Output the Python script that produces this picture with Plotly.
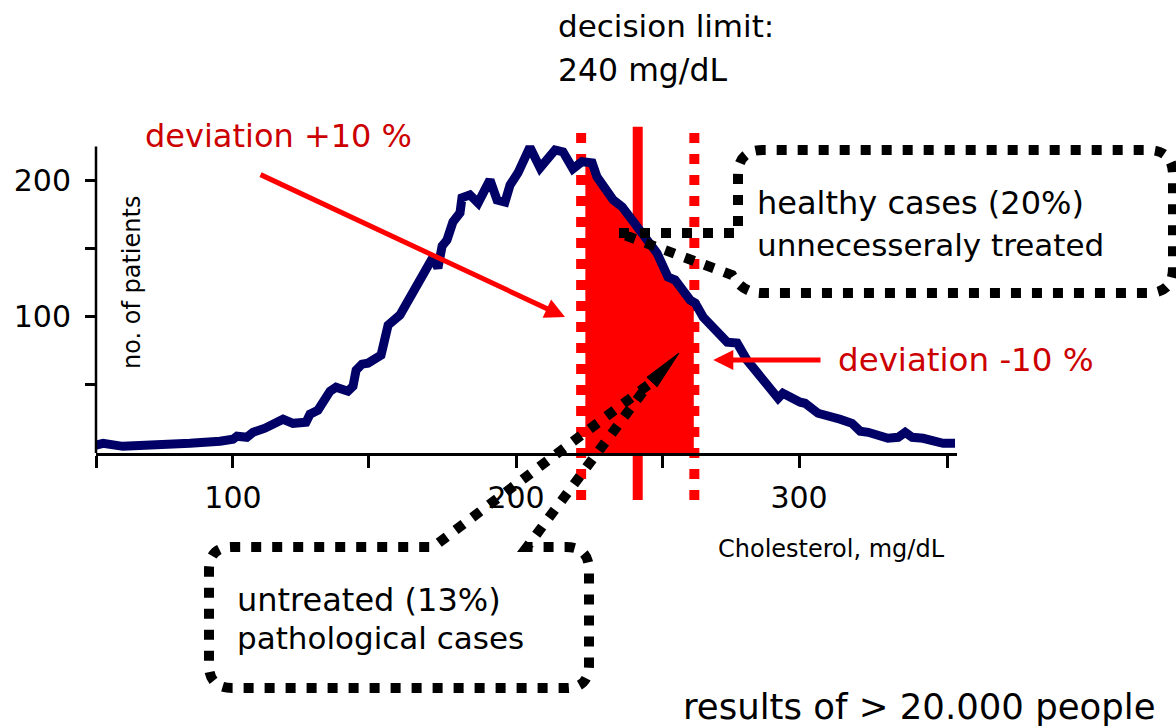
import numpy as np
import plotly.graph_objects as go

# ---------------- data ----------------
cholesterol = [51.6, 54.1, 61.1, 78.8, 84.8, 95.4, 100.0, 101.4, 104.9, 107.1, 111.3, 117.7,
               121.2, 125.8, 127.2, 130.0, 134.3, 136.4, 140.6, 142.4, 143.5, 145.6, 147.7,
               152.3, 153.4, 154.8, 159.0, 166.1, 170.7, 172.4, 173.9, 175.6, 177.7, 180.2,
               180.9, 183.7, 186.6, 190.8, 193.3, 196.1, 197.9, 200.7, 204.9, 208.5, 213.8,
               216.6, 220.1, 223.3, 226.9, 228.6, 234.3, 237.5, 244.9, 249.8, 253.7, 256.2,
               261.5, 263.3, 266.1, 271.0, 274.6, 278.1, 281.6, 292.6, 294.3, 300.4, 302.1,
               306.7, 309.9, 314.5, 318.7, 321.6, 324.4, 331.4, 335.0, 337.5, 340.0, 343.8,
               350.9, 355.1]
patients = [5.7, 7.1, 4.9, 5.7, 7.1, 8.6, 10.1, 12.3, 11.5, 15.2, 18.2, 24.8,
            21.8, 22.6, 28.5, 31.4, 45.4, 48.3, 45.4, 49.0, 60.8, 65.2, 66.0,
            71.8, 80.7, 93.9, 101.3, 128.5, 143.9, 135.8, 152.0, 156.4, 169.6, 176.3,
            187.3, 189.5, 183.6, 200.5, 185.8, 184.3, 196.8, 205.7, 224.5, 209.3, 222.5,
            221.1, 208.6, 213.8, 213.0, 202.7, 185.8, 180.7, 158.6, 146.8, 129.2, 127.0,
            112.3, 110.1, 99.8, 90.2, 81.4, 80.7, 68.2, 40.2, 43.9, 37.3, 36.5,
            29.2, 27.7, 24.8, 21.8, 16.0, 15.2, 10.8, 11.5, 15.2, 11.5, 10.8,
            7.1, 7.1]

limit_low, decision_limit, limit_high = 223.0, 243.0, 263.0   # dotted / solid markers
fill_low, fill_high = 224.5, 262.8                             # red shaded band

x_tick_vals = [51.6, 100, 147.7, 200, 251.9, 300, 352.3]
x_tick_text = ["", "100", "", "200", "", "300", ""]
y_tick_vals = [50, 100, 150, 200]
y_tick_text = ["", "100", "", "200"]

x_range = [51.6, 355.8]
y_range = [0, 232]
y_axis_top = 225

FONT = "DejaVu Sans"
NAVY = "#000066"
RED = "#FF0000"
DARKRED = "#CC0000"

# ---------------- geometry helpers (pixel -> paper) ----------------
W, H = 1176, 728
PL, PR, PT, PB = 96, 957, 137, 453


def pxx(x):
    return (x - PL) / (PR - PL)


def pxy(y):
    return (PB - y) / (PB - PT)


def make_path(cmds):
    out = []
    for c in cmds:
        op, pts = c[0], c[1:]
        coords = " ".join(f"{pxx(pts[i]):.5f},{pxy(pts[i + 1]):.5f}" for i in range(0, len(pts), 2))
        out.append(op + coords)
    return " ".join(out)


# ---------------- figure ----------------
fig = go.Figure()

cx = np.array(cholesterol)
cy = np.array(patients)
inside = (cx > fill_low) & (cx < fill_high)
band_x = [fill_low] + list(cx[inside]) + [fill_high]
band_y = [float(np.interp(fill_low, cx, cy))] + list(cy[inside]) + [float(np.interp(fill_high, cx, cy))]

fig.add_trace(go.Scatter(x=band_x, y=band_y, mode="lines", fill="tozeroy",
                         fillcolor=RED, line=dict(width=0, color=RED),
                         hoverinfo="skip", showlegend=False))
fig.add_trace(go.Scatter(x=cholesterol, y=patients, mode="lines",
                         line=dict(color=NAVY, width=9), showlegend=False))

shapes = []
# y axis line (stops at the top of the axis like the reference)
shapes.append(dict(type="line", xref="paper", yref="y", x0=0, x1=0, y0=0, y1=y_axis_top,
                   line=dict(color="black", width=2.5), layer="above"))
# decision limit lines
ytop, ybot = pxy(126.7), pxy(500)
for xv, dash in [(limit_low, "10px,11px"), (limit_high, "10px,11px"), (decision_limit, "solid")]:
    shapes.append(dict(type="line", xref="x", yref="paper", x0=xv, x1=xv, y0=ybot, y1=ytop,
                       line=dict(color=RED, width=10, dash=dash), layer="below"))

dot = dict(color="black", width=10, dash="10px,11px")
# callout: healthy cases
box1 = [("M", 619, 233), ("L", 738, 233), ("L", 738, 175), ("Q", 738, 150, 763, 150),
        ("L", 1148, 150), ("Q", 1173, 150, 1173, 175), ("L", 1173, 268),
        ("Q", 1173, 293, 1148, 293), ("L", 760, 293), ("Q", 742, 292, 732, 275),
        ("L", 619, 233)]
shapes.append(dict(type="path", xref="paper", yref="paper", path=make_path(box1),
                   line=dot, fillcolor="rgba(0,0,0,0)", layer="above"))
# callout: untreated
box2 = [("M", 648, 385), ("L", 433, 547), ("L", 232, 547), ("Q", 209, 547, 209, 570),
        ("L", 209, 665), ("Q", 209, 688, 232, 688), ("L", 566, 688),
        ("Q", 589, 688, 589, 665), ("L", 589, 570), ("Q", 589, 547, 566, 547),
        ("L", 527, 547), ("L", 648, 385)]
shapes.append(dict(type="path", xref="paper", yref="paper", path=make_path(box2),
                   line=dot, fillcolor="rgba(0,0,0,0)", layer="above"))
wedge = [("M", 679, 353), ("L", 646.9, 377.2), ("L", 657.1, 386.8)]
shapes.append(dict(type="path", xref="paper", yref="paper", path=make_path(wedge) + " Z",
                   line=dict(color="black", width=1), fillcolor="black", layer="above"))

annotations = []


def txt(s, x, y, size, color="black", xanchor="left", angle=0):
    annotations.append(dict(text=s, xref="paper", yref="paper", x=pxx(x), y=pxy(y),
                            xanchor=xanchor, yanchor="middle", showarrow=False,
                            textangle=angle, font=dict(family=FONT, size=size, color=color)))


txt("decision limit:", 556, 26, 31)
txt("240 mg/dL", 556, 70, 31.5)
txt("deviation +10 %", 143, 136, 32, DARKRED)
txt("deviation -10 %", 836, 360, 32.5, DARKRED)
txt("healthy cases (20%)", 755, 203, 32)
txt("unnecesseraly treated", 755, 245, 31)
txt("Cholesterol, mg/dL", 716, 549, 24)
txt("untreated (13%)", 235, 600, 32)
txt("pathological cases", 235, 638, 31)
txt("results of > 20.000 people", 681, 706, 35.5)
txt("no. of patients", 132, 283, 24, xanchor="center", angle=-90)

# red arrows
annotations.append(dict(text="", x=217.3, y=99.8, ax=109.2, ay=204.9, xref="x", yref="y",
                        axref="x", ayref="y", showarrow=True, arrowhead=2, arrowsize=0.8,
                        arrowwidth=5, arrowcolor=RED, standoff=0, startstandoff=0))
annotations.append(dict(text="", x=269.7, y=68.2, ax=308.1, ay=68.2, xref="x", yref="y",
                        axref="x", ayref="y", showarrow=True, arrowhead=2, arrowsize=0.8,
                        arrowwidth=5, arrowcolor=RED, standoff=0, startstandoff=0))

fig.update_layout(
    width=W, height=H, autosize=False,
    margin=dict(l=PL, r=W - PR, t=PT, b=H - PB, pad=0),
    paper_bgcolor="white", plot_bgcolor="white",
    showlegend=False,
    shapes=shapes, annotations=annotations,
    font=dict(family=FONT, color="black"),
    xaxis=dict(range=x_range, tickmode="array", tickvals=x_tick_vals, ticktext=x_tick_text,
               ticks="outside", ticklen=12, tickwidth=2.5, tickcolor="black",
               showline=True, linecolor="black", linewidth=2.5, showgrid=False, zeroline=False,
               tickfont=dict(family=FONT, size=30, color="black"), ticklabelstandoff=4),
    yaxis=dict(range=y_range, tickmode="array", tickvals=y_tick_vals, ticktext=y_tick_text,
               ticks="outside", ticklen=10, tickwidth=2.5, tickcolor="black",
               showline=False, showgrid=False, zeroline=False,
               tickfont=dict(family=FONT, size=30, color="black"), ticklabelstandoff=8),
)

fig.write_html("out.html", config={"displayModeBar": False},
               post_script="document.body.style.margin='0';document.body.style.overflow='hidden';")
